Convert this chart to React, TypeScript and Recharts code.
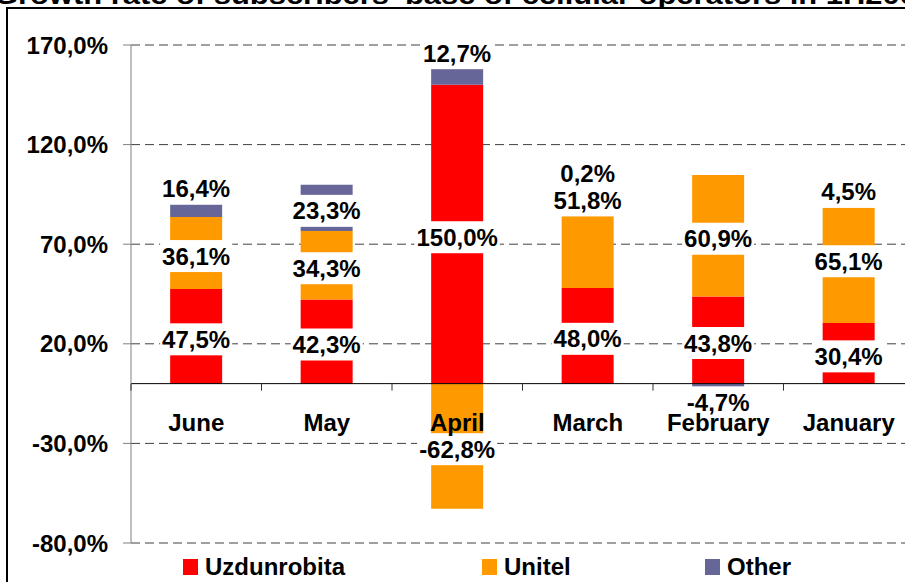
import { BarChart, Bar, XAxis, YAxis, CartesianGrid, ReferenceLine, LabelList } from 'recharts'

const categories = ['June', 'May', 'April', 'March', 'February', 'January']
const uzdunrobita = [47.5, 42.3, 150.0, 48.0, 43.8, 30.4]
const unitel = [36.1, 34.3, -62.8, 51.8, 60.9, 65.1]
const other = [16.4, 23.3, 12.7, 0.2, -4.7, 4.5]
const yTicks = [-80, -30, 20, 70, 120, 170]

const series = [
  { key: 'uzdunrobita', name: 'Uzdunrobita', color: '#FF0000', values: uzdunrobita },
  { key: 'unitel', name: 'Unitel', color: '#FF9900', values: unitel },
  { key: 'other', name: 'Other', color: '#666699', values: other },
]

const data = categories.map((c, i) => ({
  month: c,
  uzdunrobita: uzdunrobita[i],
  unitel: unitel[i],
  other: other[i],
}))

const FONT = '"Liberation Sans", Arial, sans-serif'
const CHART_W = 914
const CHART_H = 582
const X_AXIS_H = 30
const MARGIN = { top: 45, right: 0, bottom: 39 - X_AXIS_H, left: 0 }
const Y_AXIS_W = 131
const PLOT_H = CHART_H - MARGIN.top - MARGIN.bottom - X_AXIS_H
const PLOT_W = CHART_W - Y_AXIS_W
const Y_MIN = yTicks[0]
const Y_MAX = yTicks[yTicks.length - 1]
const ZERO_Y = MARGIN.top + (PLOT_H * Y_MAX) / (Y_MAX - Y_MIN)
const BAND = PLOT_W / categories.length

// hand-moved labels in the original (px)
const labelNudge: Record<string, number> = {
  'June|other': -15,
  'April|other': -22,
  'March|unitel': -39,
  'March|other': -14,
  'February|other': 11,
}

const fmt = (v: number) => v.toFixed(1).replace('.', ',') + '%'

const charW: Record<string, number> = { ',': 0.278, '%': 0.889, '-': 0.333 }
const textWidth = (s: string, size: number) =>
  s.split('').reduce((w, ch) => w + (charW[ch] ?? 0.556), 0) * size

const makeLabel = (key: string, values: number[]) => (props: any) => {
  const { x, y, width, height, index } = props
  const v = values[index]
  if (v == null) return null
  const text = fmt(v)
  const cx = Number(x) + Number(width) / 2
  const cy = Number(y) + Number(height) / 2 + 3 + (labelNudge[`${categories[index]}|${key}`] ?? 0)
  const w = textWidth(text, 24) + 4
  return (
    <g>
      <rect x={cx - w / 2} y={cy - 16} width={w} height={32} fill="#fff" />
      <text x={cx} y={cy + 8.5} textAnchor="middle" fontFamily={FONT} fontWeight="bold" fontSize={24} fill="#000">
        {text}
      </text>
    </g>
  )
}

function YTick({ x, y, payload }: any) {
  return (
    <text x={x - 13} y={y + 8.5} textAnchor="end" fontFamily={FONT} fontWeight="bold" fontSize={24} fill="#000">
      {fmt(payload.value)}
    </text>
  )
}

function CategoryTick({ x, payload }: any) {
  const left = x - BAND / 2
  return (
    <g>
      <line x1={left} x2={left} y1={ZERO_Y} y2={ZERO_Y + 7} stroke="#333" />
      <text x={x} y={ZERO_Y + 47} textAnchor="middle" fontFamily={FONT} fontWeight="bold" fontSize={24} fill="#000">
        {payload.value}
      </text>
    </g>
  )
}

const legendX = [183, 482, 705]

export default function App() {
  return (
    <div
      style={{
        position: 'absolute',
        left: 0,
        top: 0,
        width: 905,
        height: 582,
        overflow: 'hidden',
        background: '#fff',
      }}
    >
      <BarChart
        width={CHART_W}
        height={CHART_H}
        data={data}
        margin={MARGIN}
        stackOffset="sign"
        barCategoryGap="30%"
      >
        <CartesianGrid vertical={false} strokeDasharray="9 5" stroke="#404040" />
        <YAxis
          type="number"
          domain={[Y_MIN, Y_MAX]}
          ticks={yTicks}
          width={Y_AXIS_W}
          axisLine={{ stroke: '#808080' }}
          tickLine={{ stroke: '#808080' }}
          tickSize={8}
          tick={<YTick />}
          interval={0}
        />
        {series.map((s) => (
          <Bar key={s.key} dataKey={s.key} name={s.name} stackId="a" fill={s.color} isAnimationActive={false}>
            <LabelList dataKey={s.key} content={makeLabel(s.key, s.values)} />
          </Bar>
        ))}
        <ReferenceLine y={0} stroke="#000" strokeWidth={1} />
        <XAxis
          dataKey="month"
          height={X_AXIS_H}
          axisLine={false}
          tickLine={false}
          tick={<CategoryTick />}
          interval={0}
        />
      </BarChart>
      <svg
        width={905}
        height={582}
        style={{ position: 'absolute', left: 0, top: 0, pointerEvents: 'none' }}
      >
        <text
          x={-6}
          y={3.5}
          textLength={940}
          lengthAdjust="spacingAndGlyphs"
          fontFamily={FONT}
          fontWeight="bold"
          fontSize={26}
          fill="#000"
        >
          Growth rate of subscribers' base of cellular operators in 1H2008
        </text>
        <line x1={7} x2={905} y1={8} y2={8} stroke="#000" strokeWidth={2} />
        <line x1={7} x2={7} y1={7} y2={582} stroke="#000" strokeWidth={2} />
        {series.map((s, i) => (
          <g key={s.key}>
            <rect x={legendX[i]} y={559} width={15} height={16} fill={s.color} />
            <text x={legendX[i] + 22} y={575} fontFamily={FONT} fontWeight="bold" fontSize={24} fill="#000">
              {s.name}
            </text>
          </g>
        ))}
      </svg>
    </div>
  )
}
